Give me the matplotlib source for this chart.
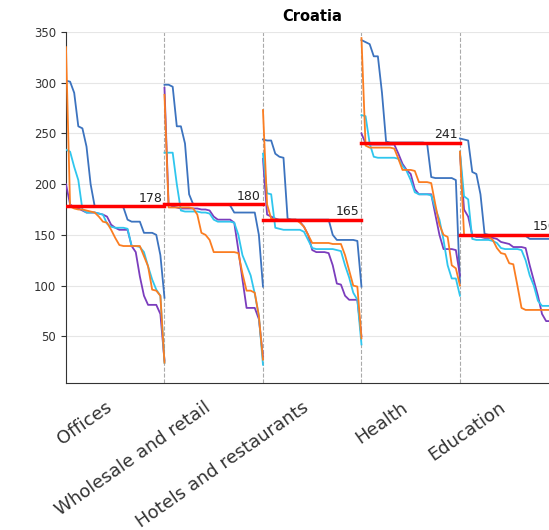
import numpy as np
import matplotlib.pyplot as plt

# categories and sector means (red lines)
categories = ["Offices", "Wholesale and retail", "Hotels and restaurants", "Health", "Education"]
means = [178, 180, 165, 241, 150]

# sorted curves, 25 samples across each category block
blue_offices = [302, 301, 290, 257, 255, 237, 200, 178, 178, 178, 178, 178, 178, 178, 177,
                165, 163, 163, 163, 152, 152, 152, 150, 130, 88]
blue_wholesale = [298, 298, 296, 257, 257, 240, 190, 180, 180, 180, 180, 180, 180, 180, 180,
                  180, 179, 172, 172, 172, 172, 172, 172, 150, 99]
blue_hotels = [244, 243, 243, 230, 227, 226, 166, 165, 165, 165, 165, 165, 165, 165, 165,
               165, 165, 150, 145, 145, 145, 145, 145, 144, 99]
blue_health = [342, 340, 338, 326, 326, 290, 242, 241, 241, 241, 241, 241, 241, 241, 241,
               241, 240, 207, 206, 206, 206, 206, 206, 204, 102]
blue_education = [245, 244, 243, 212, 210, 190, 151, 150, 150, 150, 150, 150, 150, 150, 150,
                  150, 149, 146, 146, 146, 146, 146, 146, 146, 100]

cyan_offices = [234, 232, 217, 204, 175, 172, 172, 172, 171, 170, 161, 158, 157, 157, 157,
                156, 139, 139, 138, 133, 119, 106, 96, 90, 24]
cyan_wholesale = [231, 231, 231, 200, 174, 173, 173, 173, 173, 172, 172, 171, 165, 163, 163,
                  163, 163, 162, 150, 130, 120, 110, 92, 70, 22]
cyan_hotels = [230, 191, 190, 157, 156, 155, 155, 155, 155, 155, 153, 145, 137, 136, 136,
               136, 136, 136, 135, 134, 120, 108, 93, 86, 42]
cyan_health = [268, 267, 240, 227, 226, 226, 226, 226, 226, 225, 218, 213, 204, 192, 190,
               190, 190, 189, 176, 165, 145, 120, 107, 107, 90]
cyan_education = [232, 188, 185, 146, 145, 145, 145, 145, 144, 142, 137, 136, 136, 136, 136,
                  135, 125, 110, 100, 85, 80, 80, 80, 78, 60]

purple_offices = [200, 180, 177, 176, 174, 172, 172, 172, 171, 170, 168, 160, 157, 155, 155,
                  155, 139, 133, 109, 90, 81, 81, 81, 72, 26]
purple_wholesale = [295, 180, 178, 177, 176, 176, 176, 176, 176, 175, 175, 174, 168, 165, 165,
                    165, 165, 162, 135, 106, 78, 78, 78, 67, 30]
purple_hotels = [225, 170, 168, 166, 165, 165, 165, 165, 165, 163, 158, 150, 135, 133, 133,
                 133, 132, 120, 102, 101, 90, 86, 86, 86, 50]
purple_health = [250, 240, 239, 239, 239, 239, 239, 239, 239, 230, 220, 214, 210, 195, 190,
                 190, 190, 190, 170, 150, 136, 136, 136, 135, 110]
purple_education = [230, 175, 168, 150, 148, 148, 147, 147, 147, 146, 143, 142, 141, 138, 138,
                    138, 137, 120, 105, 90, 72, 65, 65, 64, 50]

orange_offices = [335, 178, 176, 175, 175, 174, 173, 172, 168, 163, 162, 155, 147, 140, 139,
                  139, 139, 139, 139, 129, 119, 96, 95, 90, 24]
orange_wholesale = [288, 177, 177, 177, 177, 177, 177, 176, 170, 152, 150, 145, 133, 133, 133,
                    133, 133, 133, 132, 112, 95, 95, 93, 70, 27]
orange_hotels = [273, 180, 166, 165, 165, 165, 165, 165, 165, 162, 158, 150, 142, 142, 142,
                 142, 142, 141, 141, 141, 130, 115, 100, 99, 48]
orange_health = [344, 238, 236, 236, 236, 236, 236, 236, 235, 225, 214, 214, 214, 213, 202,
                 202, 202, 201, 180, 160, 150, 148, 120, 117, 100]
orange_education = [232, 150, 149, 149, 149, 149, 148, 148, 145, 137, 132, 131, 122, 121, 100,
                    78, 76, 76, 76, 76, 76, 76, 76, 75, 60]

series = [
    ("#3c73bf", [blue_offices, blue_wholesale, blue_hotels, blue_health, blue_education]),
    ("#7b3dbd", [purple_offices, purple_wholesale, purple_hotels, purple_health, purple_education]),
    ("#2fc6ee", [cyan_offices, cyan_wholesale, cyan_hotels, cyan_health, cyan_education]),
    ("#fb7d21", [orange_offices, orange_wholesale, orange_hotels, orange_health, orange_education]),
]

fig = plt.figure(figsize=(5.49, 5.30), dpi=100)
ax = fig.add_axes([0.1202, 0.2774, 0.897, 0.6623])

for color, blocks in series:
    for i, vals in enumerate(blocks):
        x = i + np.linspace(0, 1, len(vals))
        ax.plot(x, vals, color=color, lw=1.3, zorder=3)

for i, m in enumerate(means):
    ax.plot([i, i + 1], [m, m], color="red", lw=2.5, zorder=4)
    ax.text(i + 0.98, m + 1.5, str(m), ha="right", va="bottom", fontsize=9, color="#222222", zorder=5)

for i in range(1, len(categories)):
    ax.axvline(i, color="#aaaaaa", ls="--", lw=0.8, zorder=1)

ax.set_xlim(0, len(categories))
ax.set_ylim(4, 350)
ax.set_yticks([50, 100, 150, 200, 250, 300, 350])
ax.set_xticks(np.arange(len(categories)) + 0.5)
ax.set_xticklabels(categories, rotation=35, ha="right", fontsize=13, color="#333333")
ax.tick_params(axis="x", length=0, pad=11)
ax.tick_params(axis="y", labelsize=8.5, colors="#333333")
ax.yaxis.grid(True, color="#e6e6e6", lw=0.8, zorder=0)
ax.spines["top"].set_visible(False)
ax.spines["right"].set_visible(False)
ax.spines["left"].set_color("#333333")
ax.spines["bottom"].set_color("#333333")
ax.set_title("Croatia", fontsize=10.5, fontweight="bold", pad=8)

fig.savefig("out.png", dpi=100)
